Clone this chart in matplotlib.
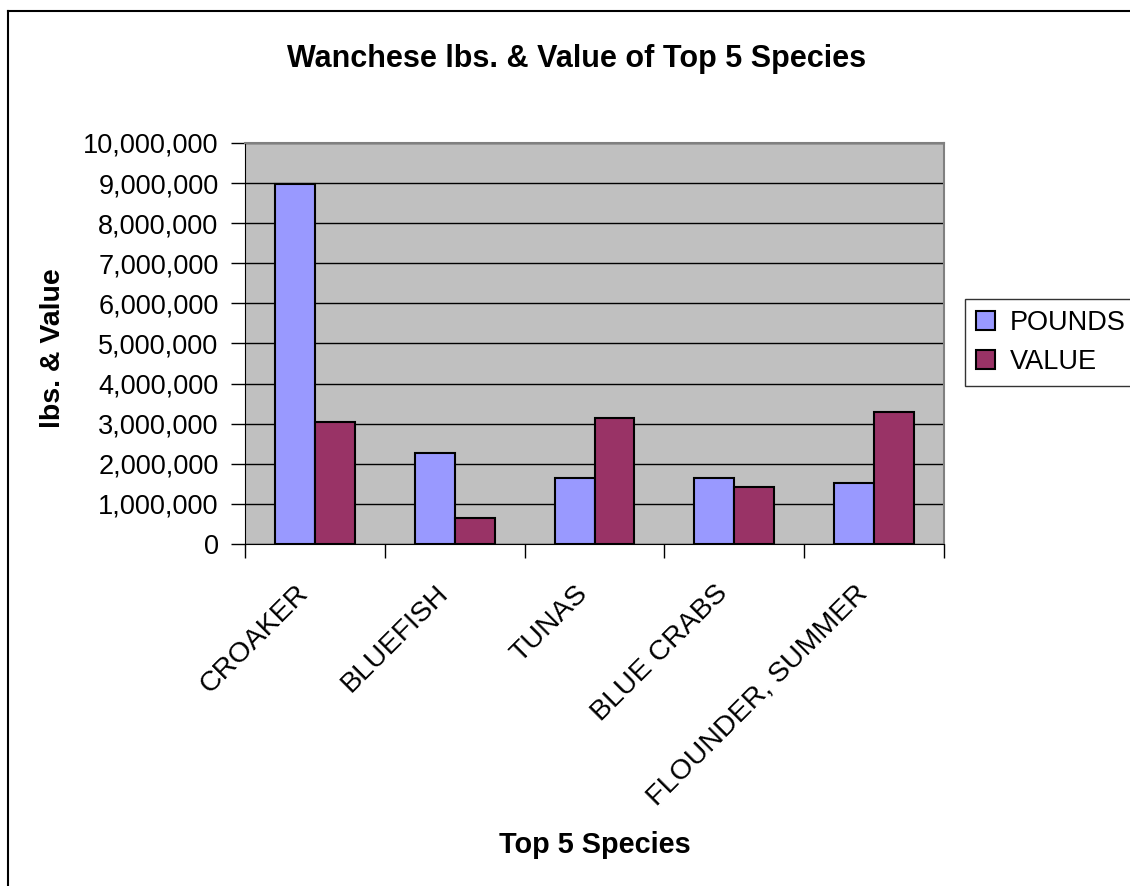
import numpy as np
import matplotlib.pyplot as plt
from matplotlib.lines import Line2D
from matplotlib.ticker import FuncFormatter, FixedLocator
from matplotlib.transforms import ScaledTranslation

species = ['CROAKER', 'BLUEFISH', 'TUNAS', 'BLUE CRABS', 'FLOUNDER, SUMMER']
pounds = [8970000, 2280000, 1650000, 1650000, 1520000]
value = [3030000, 660000, 3140000, 1420000, 3280000]

plt.rcParams['font.family'] = ['Liberation Sans', 'DejaVu Sans']

fig = plt.figure(figsize=(11.3, 8.86), dpi=100)
ax = fig.add_axes([245 / 1130, 1 - 544 / 886, 699 / 1130, 401 / 886])

x = np.arange(len(species))
w = 0.2857
ax.bar(x - w / 2, pounds, w, color='#9999FF', edgecolor='black', linewidth=1.5, label='POUNDS', zorder=3)
ax.bar(x + w / 2, value, w, color='#993366', edgecolor='black', linewidth=1.5, label='VALUE', zorder=3)

ax.set_facecolor('#C0C0C0')
ax.set_xlim(-0.5, len(species) - 0.5)
ax.set_ylim(0, 10000000)
ax.set_yticks(np.arange(0, 10000001, 1000000))
ax.yaxis.set_major_formatter(FuncFormatter(lambda v, p: f'{int(v):,}'))
ax.grid(axis='y', color='black', linewidth=1, zorder=1)

# category boundaries get the tick marks, names sit at the centres
ax.xaxis.set_major_locator(FixedLocator(np.arange(-0.5, len(species), 1)))
ax.xaxis.set_minor_locator(FixedLocator(x))
ax.set_xticklabels([], minor=False)
ax.set_xticklabels(species, minor=True, rotation=45, ha='right', va='top',
                   rotation_mode='anchor', fontsize=20.5)
ax.tick_params(axis='x', which='minor', length=0, pad=26)
ax.tick_params(axis='x', which='major', length=10, width=1, direction='out')
ax.tick_params(axis='y', length=10, width=1, direction='out', labelsize=19.5, pad=9)

# shift the slanted names a bit left, like Excel does
shift = ScaledTranslation(-20 / 100, 0, fig.dpi_scale_trans)
for lbl in ax.get_xticklabels(minor=True):
    lbl.set_transform(lbl.get_transform() + shift)

for s in ['top', 'right']:
    ax.spines[s].set_color('#808080')
    ax.spines[s].set_linewidth(1.5)
ax.spines['left'].set_color('black')
ax.spines['bottom'].set_color('black')

fig.text(577 / 1130, 1 - 59 / 886, 'Wanchese lbs. & Value of Top 5 Species',
         ha='center', va='center', fontsize=22, fontweight='bold')
fig.text(53 / 1130, 1 - 348 / 886, 'lbs. & Value', rotation=90,
         ha='center', va='center', fontsize=20.5, fontweight='bold')
fig.text(595 / 1130, 1 - 845 / 886, 'Top 5 Species',
         ha='center', va='center', fontsize=20.8, fontweight='bold')

leg = fig.legend(loc='upper left', bbox_to_anchor=(965 / 1130, 1 - 299 / 886),
                 fontsize=19.5, frameon=True, fancybox=False, handlelength=0.7,
                 handleheight=0.7, handletextpad=0.55, borderpad=0.4, labelspacing=0.5,
                 borderaxespad=0)
leg.get_frame().set_edgecolor('black')
leg.get_frame().set_linewidth(1)

# outer chart border (only top and left visible in the crop)
fig.add_artist(Line2D([8 / 1130, 8 / 1130], [0, 1 - 11 / 886], transform=fig.transFigure,
                      color='black', linewidth=1.5))
fig.add_artist(Line2D([8 / 1130, 1], [1 - 11 / 886, 1 - 11 / 886], transform=fig.transFigure,
                      color='black', linewidth=1.5))

fig.savefig('out.png', dpi=100)
